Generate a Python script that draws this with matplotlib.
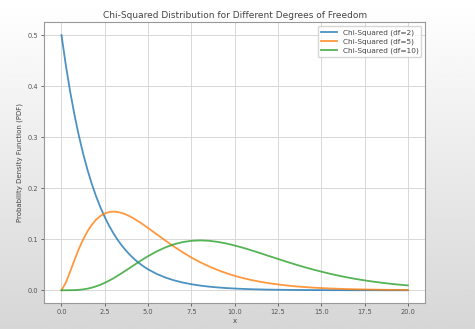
import numpy as np
import matplotlib.pyplot as plt

# x values (finer near the start, where the curves bend sharply)
x = [0.0, 0.25, 0.5, 0.75, 1.0, 1.25, 1.5, 1.75, 2.0, 2.25, 2.5, 2.75, 3.0,
     3.25, 3.5, 3.75, 4.0, 4.25, 4.5, 4.75, 5.0, 5.5, 6.0, 6.5, 7.0,
     7.5, 8.0, 8.5, 9.0, 9.5, 10.0, 10.5, 11.0, 11.5, 12.0, 12.5, 13.0, 13.5,
     14.0, 14.5, 15.0, 15.5, 16.0, 16.5, 17.0, 17.5, 18.0, 18.5, 19.0, 19.5, 20.0]

pdf_df2 = [0.5, 0.4412, 0.3894, 0.3437, 0.3033, 0.2676, 0.2362, 0.2084, 0.1839,
           0.1623, 0.1433, 0.1264, 0.1116, 0.0984, 0.0869, 0.0767, 0.0677,
           0.0597, 0.0527, 0.0465, 0.0410, 0.0320, 0.0249, 0.0194, 0.0151,
           0.0118, 0.0092, 0.0071, 0.0056, 0.0043, 0.0034, 0.0026, 0.0020,
           0.0016, 0.0012, 0.0010, 0.0008, 0.0006, 0.0005, 0.0004, 0.0003,
           0.0002, 0.0002, 0.0001, 0.0001, 0.0001, 0.0001, 0.0000, 0.0000,
           0.0000, 0.0000]

pdf_df5 = [0.0, 0.0147, 0.0366, 0.0594, 0.0807, 0.0995, 0.1154, 0.1283, 0.1384,
           0.1457, 0.1506, 0.1533, 0.1542, 0.1534, 0.1513, 0.1481, 0.1440,
           0.1391, 0.1338, 0.1280, 0.1220, 0.1097, 0.0973, 0.0855, 0.0744,
           0.0642, 0.0551, 0.0470, 0.0399, 0.0337, 0.0283, 0.0237, 0.0198,
           0.0165, 0.0137, 0.0114, 0.0094, 0.0077, 0.0064, 0.0052, 0.0043,
           0.0035, 0.0029, 0.0023, 0.0019, 0.0015, 0.0013, 0.0010, 0.0008,
           0.0007, 0.0005]

pdf_df10 = [0.0, 0.0000, 0.0001, 0.0003, 0.0008, 0.0017, 0.0031, 0.0051, 0.0077,
            0.0108, 0.0146, 0.0188, 0.0235, 0.0286, 0.0340, 0.0395, 0.0451,
            0.0507, 0.0563, 0.0616, 0.0668, 0.0762, 0.0840, 0.0901, 0.0944,
            0.0969, 0.0977, 0.0970, 0.0949, 0.0918, 0.0877, 0.0831, 0.0779,
            0.0725, 0.0669, 0.0614, 0.0559, 0.0506, 0.0456, 0.0409, 0.0365,
            0.0324, 0.0286, 0.0252, 0.0221, 0.0194, 0.0169, 0.0147, 0.0127,
            0.0110, 0.0095]

series = [("Chi-Squared (df=2)", pdf_df2),
          ("Chi-Squared (df=5)", pdf_df5),
          ("Chi-Squared (df=10)", pdf_df10)]

fig = plt.figure(figsize=(4.75, 3.29), dpi=100)

# screenshot-like background: white at top, grey at the bottom
bg = fig.add_axes([0, 0, 1, 1], zorder=-10)
grad = np.linspace(1.0, 0.84, 256).reshape(-1, 1)
bg.imshow(grad, cmap="gray", vmin=0, vmax=1, aspect="auto", extent=[0, 1, 0, 1])
bg.axis("off")

ax = fig.add_axes([0.093, 0.079, 0.802, 0.853])
ax.set_facecolor("white")

for label, y in series:
    ax.plot(x, y, label=label, linewidth=1.3, alpha=0.8)

ax.set_title("Chi-Squared Distribution for Different Degrees of Freedom",
             fontsize=6.5, color="#444444", pad=3)
ax.set_xlabel("x", fontsize=5, color="#444444", labelpad=2)
ax.set_ylabel("Probability Density Function (PDF)", fontsize=5, color="#444444",
              labelpad=3)
ax.set_xticks([0, 2.5, 5, 7.5, 10, 12.5, 15, 17.5, 20])
ax.set_yticks([0, 0.1, 0.2, 0.3, 0.4, 0.5])
ax.tick_params(labelsize=4.8, colors="#555555", length=2.5, width=0.6, pad=2)
ax.grid(True, color="#d8d8d8", linewidth=0.7)
for s in ax.spines.values():
    s.set_color("#999999")
    s.set_linewidth(0.8)

leg = ax.legend(loc="upper right", fontsize=5.3, frameon=True,
                handlelength=2.2, labelspacing=0.35, borderpad=0.4)
leg.get_frame().set_edgecolor("#cccccc")
for t in leg.get_texts():
    t.set_color("#444444")

fig.savefig("out.png", dpi=100)
